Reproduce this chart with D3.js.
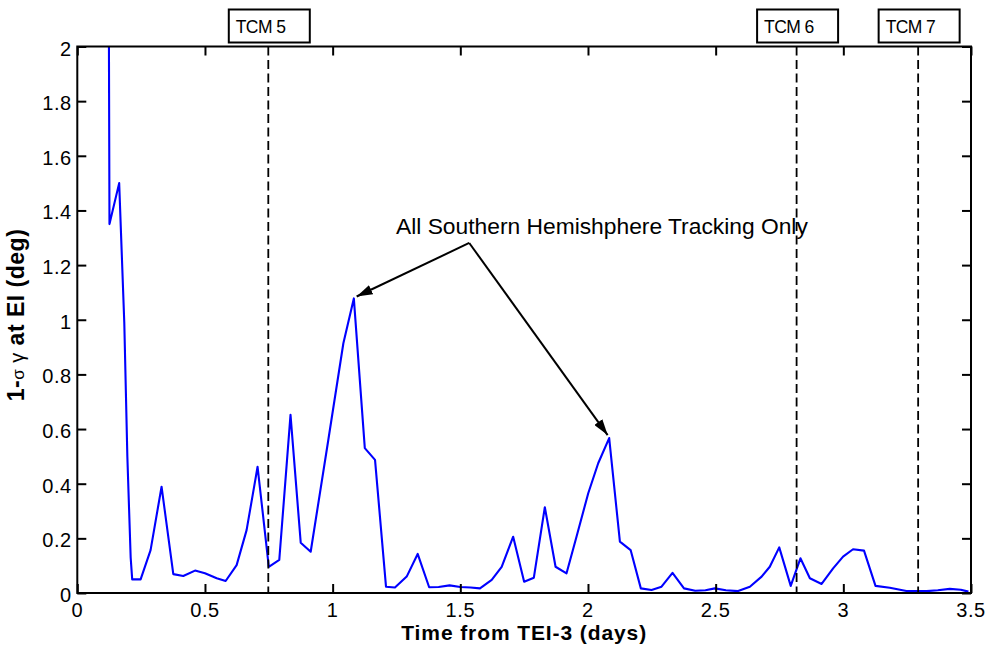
<!DOCTYPE html>
<html>
<head>
<meta charset="utf-8">
<script src="https://cdn.jsdelivr.net/npm/d3@7"></script>
<style>
  html, body { margin: 0; padding: 0; background: #fff; }
  svg { display: block; }
  text { font-family: "Liberation Sans", Arial, sans-serif; fill: #000; }
</style>
</head>
<body>
<div id="chart"></div>
<script>
// Time since TEI-3 (days)
const timeDays = [
  0.122, 0.126, 0.164, 0.184, 0.196, 0.209, 0.215, 0.248, 0.287, 0.330,
  0.376, 0.415, 0.461, 0.500, 0.546, 0.581, 0.624, 0.663, 0.706, 0.750,
  0.791, 0.835, 0.875, 0.914, 0.983, 1.042, 1.083, 1.126, 1.166, 1.209,
  1.244, 1.290, 1.333, 1.378, 1.415, 1.458, 1.500, 1.540, 1.577, 1.623,
  1.662, 1.707, 1.750, 1.788, 1.831, 1.873, 1.916, 1.955, 2.001, 2.040,
  2.083, 2.125, 2.167, 2.207, 2.249, 2.288, 2.331, 2.376, 2.420, 2.460,
  2.497, 2.540, 2.588, 2.634, 2.680, 2.712, 2.749, 2.794, 2.832, 2.869,
  2.915, 2.960, 2.999, 3.038, 3.081, 3.126, 3.182, 3.247, 3.326, 3.370,
  3.417, 3.460, 3.490
];
// 1-sigma flight path angle error at entry interface (deg)
const sigmaGamma = [
  2.600, 1.350, 1.500, 0.990, 0.500, 0.130, 0.050, 0.050, 0.157, 0.389,
  0.069, 0.062, 0.082, 0.072, 0.054, 0.044, 0.102, 0.230, 0.462, 0.096,
  0.121, 0.652, 0.184, 0.151, 0.560, 0.914, 1.078, 0.530, 0.487, 0.023,
  0.020, 0.060, 0.143, 0.021, 0.022, 0.028, 0.022, 0.020, 0.017, 0.048,
  0.096, 0.206, 0.041, 0.056, 0.314, 0.096, 0.072, 0.206, 0.365, 0.475,
  0.567, 0.188, 0.157, 0.017, 0.011, 0.023, 0.074, 0.017, 0.008, 0.010,
  0.017, 0.010, 0.007, 0.023, 0.060, 0.096, 0.167, 0.026, 0.127, 0.054,
  0.033, 0.090, 0.133, 0.160, 0.155, 0.026, 0.019, 0.007, 0.007, 0.010,
  0.015, 0.012, 0.005
];
// Trajectory correction maneuvers
const tcmNames = ["TCM 5", "TCM 6", "TCM 7"];
const tcmTimes = [0.748, 2.817, 3.293];

const xTicks = [0, 0.5, 1, 1.5, 2, 2.5, 3, 3.5];
const yTicks = [0, 0.2, 0.4, 0.6, 0.8, 1, 1.2, 1.4, 1.6, 1.8, 2];

const noteText = "All Southern Hemishphere Tracking Only";
const noteOrigin = [1.535, 1.281];
const noteTargets = [[1.094, 1.085], [2.077, 0.578]];

const W = 990, H = 650;
const plotL = 77.3, plotR = 971, plotT = 46.5, plotB = 593;

const svg = d3.select("#chart").append("svg")
  .attr("width", W).attr("height", H);

const x = d3.scaleLinear().domain([0, 3.5]).range([plotL, plotR]);
const y = d3.scaleLinear().domain([0, 2]).range([plotB, plotT]);

const fmt = d => String(d);

const defs = svg.append("defs");
// clip region for the data line
defs.append("clipPath").attr("id", "plotClip")
  .append("rect").attr("x", plotL).attr("y", plotT)
  .attr("width", plotR - plotL).attr("height", plotB - plotT);

// arrowhead marker
defs.append("marker")
  .attr("id", "arrowHead")
  .attr("viewBox", "0 0 16 10")
  .attr("refX", 16).attr("refY", 5)
  .attr("markerWidth", 16).attr("markerHeight", 10)
  .attr("markerUnits", "userSpaceOnUse")
  .attr("orient", "auto")
  .append("path").attr("d", "M0,0 L16,5 L0,10 Z").attr("fill", "#000");

// data line
const line = d3.line().x((d, i) => x(timeDays[i])).y(d => y(d));
svg.append("path")
  .datum(sigmaGamma)
  .attr("clip-path", "url(#plotClip)")
  .attr("d", line)
  .attr("fill", "none")
  .attr("stroke", "#0000ff")
  .attr("stroke-width", 2.1)
  .attr("stroke-linejoin", "round");

// TCM dashed markers
svg.append("g").selectAll("line").data(tcmTimes).join("line")
  .attr("x1", d => x(d)).attr("x2", d => x(d))
  .attr("y1", plotT).attr("y2", plotB)
  .attr("stroke", "#000").attr("stroke-width", 1.8)
  .attr("stroke-dasharray", "9,4.5");

// axes: ticks inside on all sides
const axisW = 2, tickLen = 9;
const gx = svg.append("g").attr("transform", `translate(0,${plotB})`)
  .call(d3.axisTop(x).tickValues(xTicks).tickSize(tickLen).tickFormat(""));
const gxTop = svg.append("g").attr("transform", `translate(0,${plotT})`)
  .call(d3.axisBottom(x).tickValues(xTicks).tickSize(tickLen).tickFormat(""));
const gy = svg.append("g").attr("transform", `translate(${plotL},0)`)
  .call(d3.axisRight(y).tickValues(yTicks).tickSize(tickLen).tickFormat(""));
const gyR = svg.append("g").attr("transform", `translate(${plotR},0)`)
  .call(d3.axisLeft(y).tickValues(yTicks).tickSize(tickLen).tickFormat(""));
[gx, gxTop, gy, gyR].forEach(g => {
  g.select(".domain").remove();
  g.selectAll(".tick line").attr("stroke", "#000").attr("stroke-width", axisW);
});
svg.append("rect")
  .attr("x", plotL).attr("y", plotT)
  .attr("width", plotR - plotL).attr("height", plotB - plotT)
  .attr("fill", "none").attr("stroke", "#000").attr("stroke-width", axisW);

// tick labels
svg.append("g").selectAll("text").data(xTicks).join("text")
  .attr("x", d => x(d)).attr("y", 616.5)
  .attr("text-anchor", "middle")
  .attr("font-size", 20)
  .attr("letter-spacing", 0.6)
  .text(fmt);
svg.append("g").selectAll("text").data(yTicks).join("text")
  .attr("x", plotL - 5.5).attr("y", d => y(d) + 9)
  .attr("text-anchor", "end")
  .attr("font-size", 20)
  .attr("letter-spacing", 0.6)
  .text(fmt);

// axis titles
svg.append("text")
  .attr("x", (plotL + plotR) / 2).attr("y", 639.5)
  .attr("text-anchor", "middle")
  .attr("font-size", 21).attr("font-weight", "bold")
  .attr("letter-spacing", 0.9)
  .text("Time from TEI-3 (days)");

const yTitle = svg.append("text")
  .attr("transform", `translate(24,315) rotate(-90)`)
  .attr("text-anchor", "middle")
  .attr("font-size", 23).attr("font-weight", "bold")
  .attr("letter-spacing", 0.5);
yTitle.append("tspan").text("1-");
yTitle.append("tspan").attr("font-weight", "normal").attr("font-size", 17).text("σ");
yTitle.append("tspan").attr("font-weight", "normal").attr("font-size", 20).text(" γ");
yTitle.append("tspan").text(" at EI (deg)");

// TCM labels
const boxW = 81, boxH = 33;
const tcm = svg.append("g").selectAll("g").data(tcmTimes).join("g");
tcm.append("rect")
  .attr("x", d => x(d) - boxW / 2 + 1).attr("y", 9.5)
  .attr("width", boxW).attr("height", boxH)
  .attr("fill", "#fff").attr("stroke", "#000").attr("stroke-width", 2);
tcm.append("text")
  .attr("x", d => x(d) - boxW / 2 + 8).attr("y", 33)
  .attr("font-size", 17.5)
  .attr("letter-spacing", -0.6)
  .text((d, i) => tcmNames[i]);

// annotation
svg.append("text")
  .attr("x", 396).attr("y", 234)
  .attr("font-size", 22.8)
  .text(noteText);
svg.append("g").selectAll("line").data(noteTargets).join("line")
  .attr("x1", x(noteOrigin[0])).attr("y1", y(noteOrigin[1]))
  .attr("x2", d => x(d[0])).attr("y2", d => y(d[1]))
  .attr("stroke", "#000").attr("stroke-width", 2)
  .attr("marker-end", "url(#arrowHead)");
</script>
</body>
</html>
